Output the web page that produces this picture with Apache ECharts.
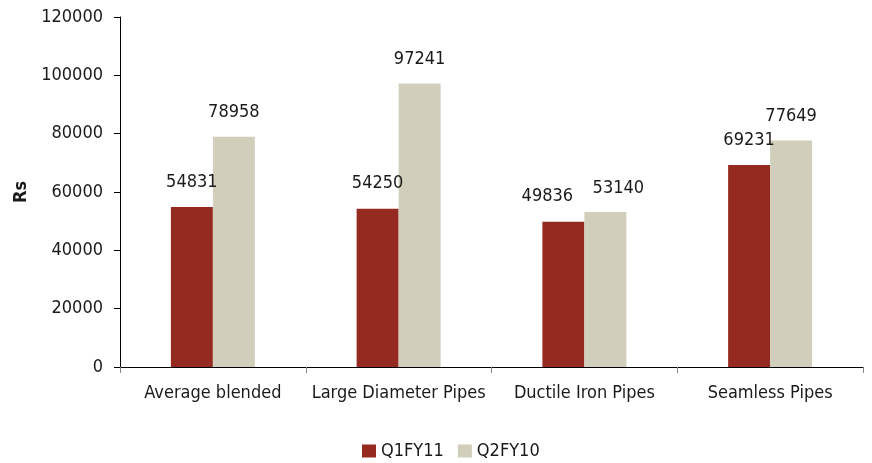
<!DOCTYPE html>
<html>
<head>
<meta charset="utf-8">
<script src="https://cdn.jsdelivr.net/npm/echarts@6/dist/echarts.min.js"></script>
<style>
  html, body { margin: 0; padding: 0; background: #fff; }
</style>
</head>
<body>
<div id="priceChart" style="width: 872px; height: 463px;"></div>
<script>
// chart data
const categories = ["Average blended", "Large Diameter Pipes", "Ductile Iron Pipes", "Seamless Pipes"];
const seriesNames = ["Q1FY11", "Q2FY10"];
const q1fy11 = [54831, 54250, 49836, 69231];
const q2fy10 = [78958, 97241, 53140, 77649];
const yTicks = [0, 20000, 40000, 60000, 80000, 100000, 120000];

// label nudges (the source chart moved a few labels by hand)
const q1LabelShift = [[0, 0], [0, 0], [-16, 0], [0, 0]];
const q2LabelShift = [[0, 0], [0, 0], [13, 0], [0, 0]];

// no narrow font installed, so ask DejaVu Sans for its condensed face
const FONT = "'DejaVu Sans', sans-serif";
const NARROW = "condensed";
const NARROW_BOLD = "bold condensed";
const FS = 18;
const TEXT = "#1a1a1a";

function withShift(values, shifts) {
  return values.map((v, i) => ({ value: v, label: { offset: shifts[i] } }));
}

let chart = echarts.init(document.getElementById("priceChart"));

let option = {
  animation: false,
  textStyle: { fontFamily: FONT, fontWeight: NARROW },
  grid: { left: 120, right: 9, top: 17, bottom: 96, outerBoundsMode: "none", containLabel: false },
  legend: {
    data: seriesNames,
    left: 362,
    top: 442,
    padding: 0,
    itemWidth: 14,
    itemHeight: 13,
    itemGap: 14,
    icon: "rect",
    textStyle: { fontFamily: FONT, fontWeight: NARROW, fontSize: FS, color: TEXT },
  },
  xAxis: {
    type: "category",
    data: categories,
    axisLine: { lineStyle: { color: "#000", width: 1 } },
    axisTick: { show: true, length: 6, lineStyle: { color: "#888" } },
    axisLabel: { interval: 0, fontFamily: FONT, fontWeight: NARROW, fontSize: FS, color: TEXT, margin: 17 },
    splitLine: { show: false },
  },
  yAxis: {
    type: "value",
    min: yTicks[0],
    max: yTicks[yTicks.length - 1],
    interval: yTicks[1] - yTicks[0],
    name: "Rs",
    nameLocation: "middle",
    nameGap: 90,
    nameTextStyle: { fontFamily: FONT, fontWeight: NARROW_BOLD, fontSize: FS, color: TEXT },
    axisLine: { show: true, lineStyle: { color: "#000", width: 1 } },
    axisTick: { show: true, length: 6, lineStyle: { color: "#000" } },
    axisLabel: {
      fontFamily: FONT, fontWeight: NARROW, fontSize: FS, color: TEXT, margin: 17,
      formatter: (v) => String(v),
    },
    splitLine: { show: false },
  },
  series: [
    {
      name: seriesNames[0],
      type: "bar",
      data: withShift(q1fy11, q1LabelShift),
      barWidth: 42,
      barGap: "0%",
      itemStyle: { color: "#952a20" },
      label: { show: true, position: "top", distance: 16, fontFamily: FONT, fontWeight: NARROW, fontSize: FS, color: TEXT },
    },
    {
      name: seriesNames[1],
      type: "bar",
      data: withShift(q2fy10, q2LabelShift),
      barWidth: 42,
      barGap: "0%",
      itemStyle: { color: "#d1cebb" },
      label: { show: true, position: "top", distance: 15, fontFamily: FONT, fontWeight: NARROW, fontSize: FS, color: TEXT },
    },
  ],
};

chart.setOption(option);
</script>
</body>
</html>
